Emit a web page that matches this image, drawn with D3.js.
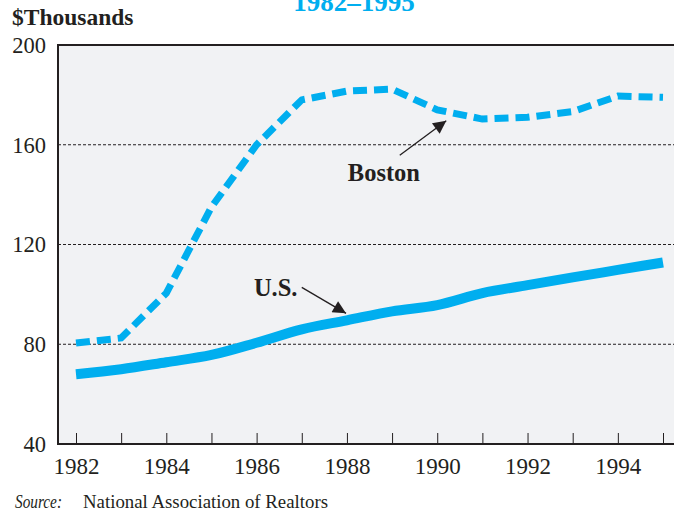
<!DOCTYPE html>
<html><head><meta charset="utf-8">
<script src="https://cdn.jsdelivr.net/npm/d3@7"></script>
<style>
html,body{margin:0;padding:0;background:#fff;}
svg{display:block;}
text{font-family:"Liberation Serif","Times New Roman",serif;fill:#231f20;}
</style></head>
<body>
<svg id="chart" width="674" height="513"></svg>
<script>
const years = [1982,1983,1984,1985,1986,1987,1988,1989,1990,1991,1992,1993,1994,1995];
const boston = [80.5,82.5,100.5,135,160,178,181.5,182.3,174,170.3,171,173.3,179.5,179];
const us = [68,70,72.8,75.7,80.6,86,89.6,93.2,95.7,100.5,103.7,106.8,109.8,112.8];
const yTicks = [40,80,120,160,200];
const xTickLabels = [1982,1984,1986,1988,1990,1992,1994];
const gridValues = [80,120,160];

const svg = d3.select("#chart");
const x = d3.scaleLinear().domain([1982,1995]).range([76,663]);
const y = d3.scaleLinear().domain([40,200]).range([444,45]);
const plotLeft = 58, plotRight = 680;

// title (cut off)
svg.append("text").attr("x",354).attr("y",11).attr("text-anchor","middle")
  .style("font-size","27px").style("font-weight","bold").style("fill","#00aeef")
  .text("1982\u20131995");

svg.append("text").attr("x",12).attr("y",25)
  .style("font-size","23.5px").style("font-weight","bold").text("$Thousands");

// plot background
svg.append("rect").attr("x",plotLeft).attr("y",y(200)).attr("width",plotRight-plotLeft)
  .attr("height",y(40)-y(200)).attr("fill","#f1f2f4");

// gridlines
svg.selectAll(".grid").data(gridValues).enter().append("line")
  .attr("x1",plotLeft).attr("x2",plotRight).attr("y1",d=>y(d)).attr("y2",d=>y(d))
  .attr("stroke","#231f20").attr("stroke-width",1).attr("stroke-dasharray","3,2");

// x axis ticks (inward)
const xAxis = d3.axisTop(x).tickValues(years).tickSize(11).tickFormat("");
const gx = svg.append("g").attr("transform",`translate(0,${y(40)})`).call(xAxis);
gx.select(".domain").remove();
gx.selectAll("line").attr("stroke","#231f20").attr("stroke-width",1);

// x tick labels
const gxl = svg.append("g").attr("transform",`translate(0,${y(40)})`)
  .call(d3.axisBottom(x).tickValues(xTickLabels).tickSize(0).tickPadding(0).tickFormat(d3.format("d")));
gxl.select(".domain").remove();
gxl.selectAll("text").attr("y",0).attr("dy","30px")
  .style("font-size","23px").style("font-family","'Liberation Serif',serif").attr("fill","#231f20");

// y tick labels
const gy = svg.append("g").attr("transform",`translate(${plotLeft},0)`)
  .call(d3.axisLeft(y).tickValues(yTicks).tickSize(0).tickPadding(12).tickFormat(d3.format("d")));
gy.select(".domain").remove();
gy.selectAll("text").attr("dy","0.33em")
  .style("font-size","22.5px").style("font-family","'Liberation Serif',serif").attr("fill","#231f20");

// border
svg.append("path")
  .attr("d",`M${plotRight},${y(200)}H${plotLeft}V${y(40)}H${plotRight}`)
  .attr("fill","none").attr("stroke","#231f20").attr("stroke-width",2);

const lineUS = d3.line().x((d,i)=>x(years[i])).y(d=>y(d)).curve(d3.curveMonotoneX);
const lineB = d3.line().x((d,i)=>x(years[i])).y(d=>y(d)).curve(d3.curveLinear);

svg.append("path").datum(us).attr("d",lineUS).attr("fill","none")
  .attr("stroke","#00aeef").attr("stroke-width",10);
svg.append("path").datum(boston).attr("d",lineB).attr("fill","none")
  .attr("stroke","#00aeef").attr("stroke-width",7).attr("stroke-dasharray","14,7");

// annotations
const defs = svg.append("defs");
defs.append("marker").attr("id","arr").attr("viewBox","0 0 10 10").attr("refX",10).attr("refY",5)
  .attr("markerWidth",16).attr("markerHeight",13).attr("markerUnits","userSpaceOnUse").attr("orient","auto")
  .append("path").attr("d","M0,0L10,5L0,10z").attr("fill","#231f20");

const annotations = [
  {label:"Boston", tx:1988.02, ty:145.3, x1:1989.17, y1:155.8, x2:1990.2, y2:169.6},
  {label:"U.S.", tx:1985.94, ty:99.5, x1:1987.0, y1:102.8, x2:1987.98, y2:92.4}
];
annotations.forEach(a=>{
  svg.append("text").attr("x",x(a.tx)).attr("y",y(a.ty))
    .style("font-size","24.5px").style("font-weight","bold").text(a.label);
  svg.append("line").attr("x1",x(a.x1)).attr("y1",y(a.y1)).attr("x2",x(a.x2)).attr("y2",y(a.y2))
    .attr("stroke","#231f20").attr("stroke-width",1.3).attr("marker-end","url(#arr)");
});

// source
const src = svg.append("text").attr("x",15).attr("y",508).style("font-size","18.5px");
src.append("tspan").style("font-style","italic").attr("textLength",47).attr("lengthAdjust","spacingAndGlyphs").text("Source:");
src.append("tspan").attr("x",83).attr("textLength",245).attr("lengthAdjust","spacingAndGlyphs").text("National Association of Realtors");
</script>
</body></html>
